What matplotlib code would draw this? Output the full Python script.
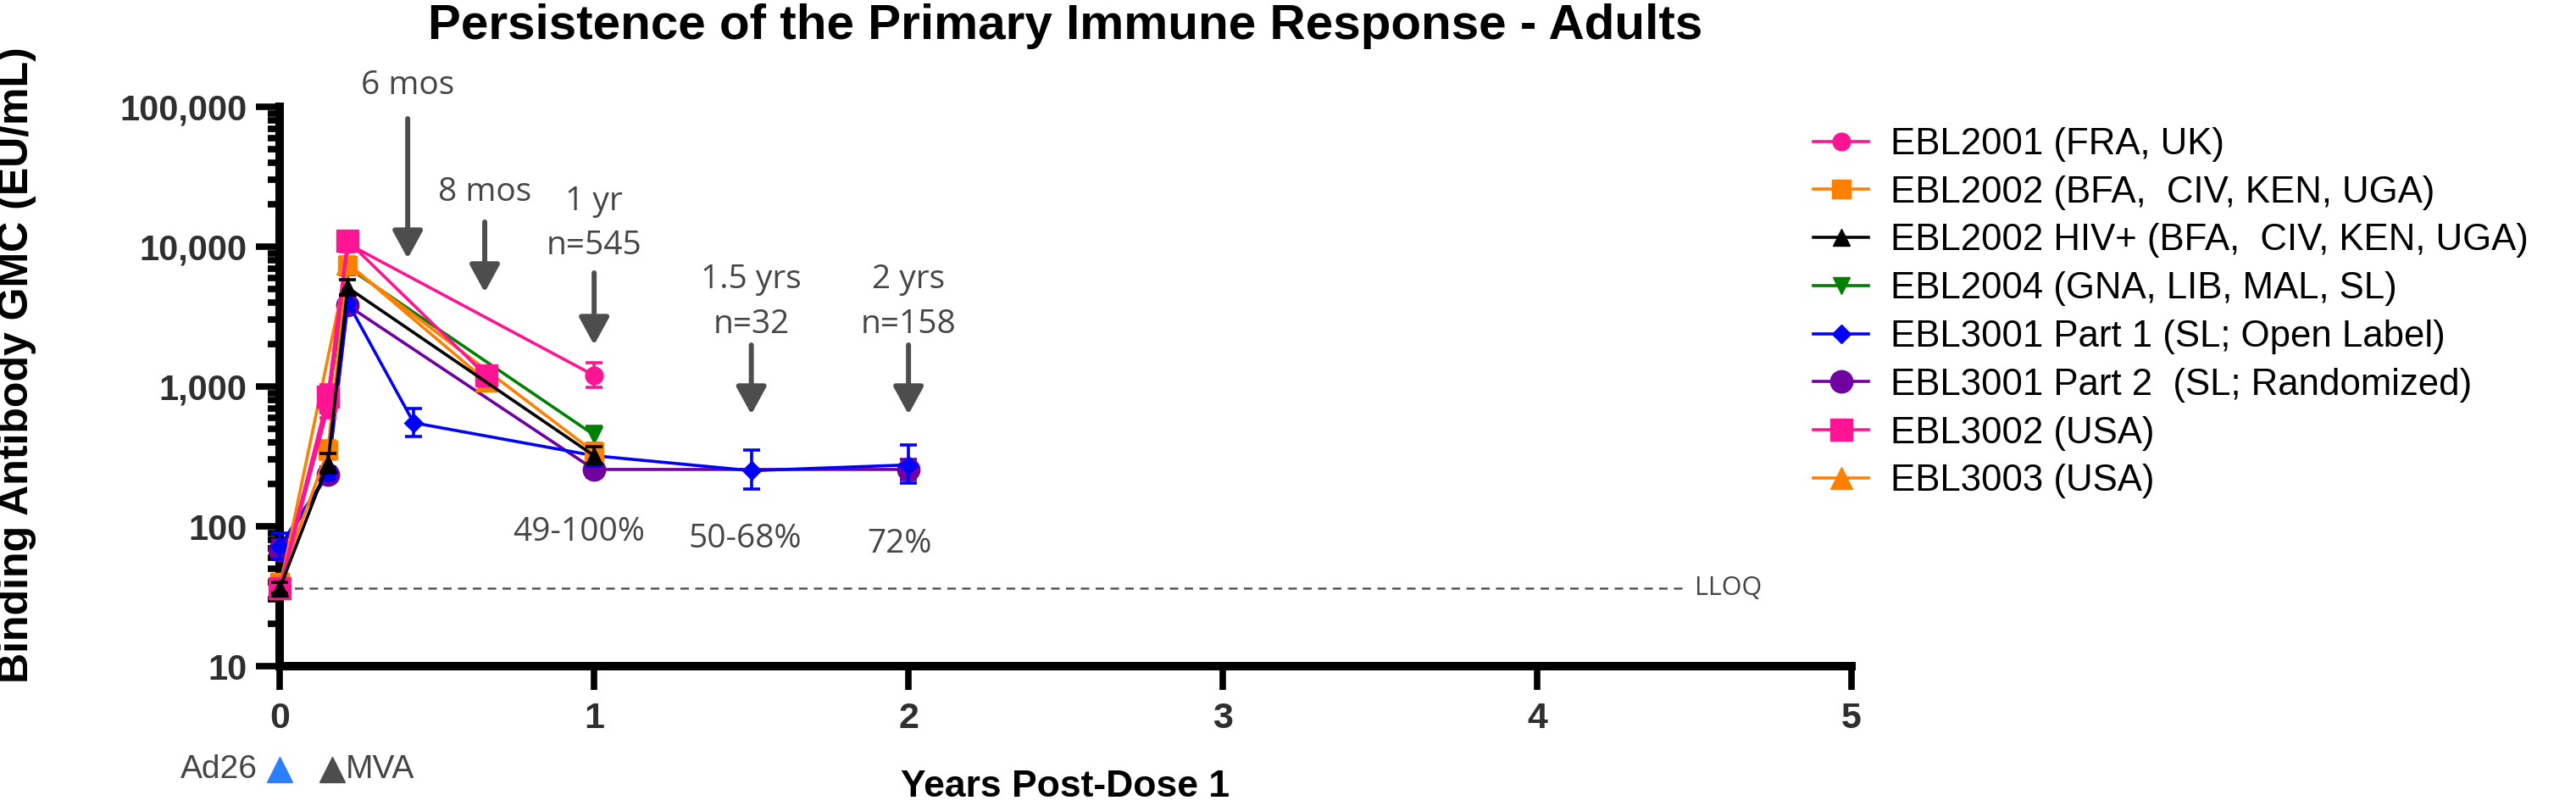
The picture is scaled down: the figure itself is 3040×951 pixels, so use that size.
import numpy as np
import matplotlib.pyplot as plt
from matplotlib.lines import Line2D
from matplotlib.ticker import LogLocator, NullFormatter
from matplotlib.transforms import blended_transform_factory

# years post-dose 1 / GMC (EU/mL) with 95% CI
ebl2001_x = [0, 0.153, 0.216, 1.0]
ebl2001_gmc = [36, 700, 10500, 1200]
ebl2001_lo = [33, 600, 9200, 980]
ebl2001_hi = [40, 820, 12000, 1480]

ebl2002_x = [0, 0.153, 0.216, 1.0]
ebl2002_gmc = [40, 350, 7400, 340]
ebl2002_lo = [37, 300, 6600, 300]
ebl2002_hi = [44, 410, 8300, 390]

ebl2002hiv_x = [0, 0.153, 0.216, 1.0]
ebl2002hiv_gmc = [36, 280, 5100, 320]
ebl2002hiv_lo = [33, 240, 4500, 280]
ebl2002hiv_hi = [40, 330, 5800, 370]

ebl2004_x = [0, 0.153, 0.216, 1.0]
ebl2004_gmc = [40, 750, 7100, 450]
ebl2004_lo = [37, 650, 6400, 390]
ebl2004_hi = [44, 870, 7900, 520]

ebl3001p1_x = [0, 0.153, 0.216, 0.426, 1.0, 1.5, 2.0]
ebl3001p1_gmc = [72, 240, 4000, 550, 320, 250, 275]
ebl3001p1_lo = [58, 215, 3500, 440, 270, 185, 205]
ebl3001p1_hi = [90, 265, 6300, 700, 380, 350, 380]

ebl3001p2_x = [0, 0.153, 0.216, 1.0, 2.0]
ebl3001p2_gmc = [68, 235, 3800, 255, 255]
ebl3001p2_lo = [58, 210, 3300, 225, 215]
ebl3001p2_hi = [80, 260, 4400, 290, 300]

ebl3002_x = [0, 0.153, 0.216, 0.656]
ebl3002_gmc = [36, 850, 11000, 1200]
ebl3002_lo = [34, 700, 10000, 1050]
ebl3002_hi = [38, 1030, 12500, 1380]

ebl3003_x = [0, 0.216, 0.656]
ebl3003_gmc = [36, 7600, 1100]
ebl3003_lo = [34, 6800, 950]
ebl3003_hi = [38, 8500, 1270]

labels = ['EBL2001 (FRA, UK)',
          'EBL2002 (BFA,  CIV, KEN, UGA)',
          'EBL2002 HIV+ (BFA,  CIV, KEN, UGA)',
          'EBL2004 (GNA, LIB, MAL, SL)',
          'EBL3001 Part 1 (SL; Open Label)',
          'EBL3001 Part 2  (SL; Randomized)',
          'EBL3002 (USA)',
          'EBL3003 (USA)']

LLOQ = 36.11
y_ticks = [10, 100, 1000, 10000, 100000]
y_ticklabels = ['10', '100', '1,000', '10,000', '100,000']
x_ticks = [0, 1, 2, 3, 4, 5]

PINK = '#FF1493'
ORANGE = '#FF8000'
GREEN = '#008000'
BLUE = '#0000FF'
PURPLE = '#7000A0'
GREY = '#454545'
ARIAL = 'Liberation Sans'
NOTE = 'Open Sans'

series = [
    (ebl2001_x, ebl2001_gmc, ebl2001_lo, ebl2001_hi, PINK, 'o', 15),
    (ebl2002_x, ebl2002_gmc, ebl2002_lo, ebl2002_hi, ORANGE, 's', 16),
    (ebl2002hiv_x, ebl2002hiv_gmc, ebl2002hiv_lo, ebl2002hiv_hi, 'black', '^', 15),
    (ebl2004_x, ebl2004_gmc, ebl2004_lo, ebl2004_hi, GREEN, 'v', 15),
    (ebl3001p1_x, ebl3001p1_gmc, ebl3001p1_lo, ebl3001p1_hi, BLUE, 'D', 11),
    (ebl3001p2_x, ebl3001p2_gmc, ebl3001p2_lo, ebl3001p2_hi, PURPLE, 'o', 19),
    (ebl3002_x, ebl3002_gmc, ebl3002_lo, ebl3002_hi, PINK, 's', 19),
    (ebl3003_x, ebl3003_gmc, ebl3003_lo, ebl3003_hi, ORANGE, '^', 19),
]
# drawing order (bottom -> top)
draw_order = [5, 4, 3, 7, 1, 0, 6, 2]

fig = plt.figure(figsize=(30.4, 9.51), dpi=100)
ax = fig.add_axes([0.1086, 0.1735, 0.6102, 0.694])

for z, i in enumerate(draw_order):
    x, gmc, lo, hi, color, marker, ms = series[i]
    yerr = [np.subtract(gmc, lo), np.subtract(hi, gmc)]
    eb = ax.errorbar(x, gmc, yerr=yerr, fmt='none', ecolor=color, elinewidth=2.6,
                     capsize=7, capthick=2.6, zorder=3 + z)
    for art in eb.get_children():
        art.set_clip_on(False)
    ax.plot(x, gmc, color=color, marker=marker, ms=ms, lw=2.6,
            clip_on=False, zorder=3.5 + z)

ax.set_yscale('log')
ax.set_xlim(0, 5)
ax.set_ylim(10, 100000)

ax.set_yticks(y_ticks, labels=y_ticklabels, fontsize=30, fontweight='bold',
              color='#2f2f2f', family=ARIAL)
ax.yaxis.set_minor_locator(LogLocator(base=10, subs=np.arange(2, 10), numticks=20))
ax.yaxis.set_minor_formatter(NullFormatter())
ax.set_xticks(x_ticks, labels=[str(t) for t in x_ticks], fontsize=31,
              fontweight='bold', color='#2f2f2f', family=ARIAL)
ax.tick_params(axis='both', which='major', length=20, width=5.5, direction='out')
ax.tick_params(axis='y', which='minor', length=10, width=5.5)
ax.tick_params(axis='y', which='major', pad=8)
ax.tick_params(axis='x', which='major', pad=10)
for side in ['top', 'right']:
    ax.spines[side].set_visible(False)
for side in ['left', 'bottom']:
    ax.spines[side].set_linewidth(7.2)

# LLOQ line
ax.plot([0, 4.47], [LLOQ, LLOQ], color='#555555', lw=1.8, dashes=(4, 3), zorder=1)
ax.text(4.5, LLOQ, 'LLOQ', fontsize=22, family=NOTE, color=GREY, ha='left', va='center')

# time point annotations
notes = [(0.407, 142000, '6 mos'), (0.652, 24400, '8 mos'),
         (1.0, 20900, '1 yr'), (1.0, 10100, 'n=545'),
         (1.5, 5800, '1.5 yrs'), (1.5, 2770, 'n=32'),
         (2.0, 5800, '2 yrs'), (2.0, 2770, 'n=158'),
         (0.95, 91, '49-100%'), (1.48, 81, '50-68%'), (1.97, 75, '72%')]
for nx, ny, txt in notes:
    ax.text(nx, ny, txt, fontsize=28, family=NOTE, color=GREY, ha='center',
            va='center', clip_on=False)

arrows = [(0.407, 82200, 8220), (0.652, 15000, 4710), (1.0, 6490, 1980),
          (1.5, 1980, 631), (2.0, 1980, 631)]
for axx, y0, y1 in arrows:
    ax.annotate('', xy=(axx, y1), xytext=(axx, y0),
                arrowprops=dict(arrowstyle='-|>,head_length=0.55,head_width=0.3',
                                lw=4.3, color='#4d4d4d', shrinkA=0, shrinkB=0,
                                mutation_scale=36), annotation_clip=False)

# vaccination markers below the axis
trans = blended_transform_factory(ax.transData, ax.transAxes)
ax.plot([0], [-0.185], marker='^', ms=21, color='#2A7FFF', transform=trans, clip_on=False)
ax.plot([0.167], [-0.185], marker='^', ms=21, color='#4d4d4d', transform=trans, clip_on=False)
ax.text(-0.07, -0.185, 'Ad26', transform=trans, fontsize=28, family=ARIAL,
        color=GREY, ha='right', va='center')
ax.text(0.21, -0.185, 'MVA', transform=trans, fontsize=28, family=ARIAL,
        color=GREY, ha='left', va='center')

fig.text(1257 / 3040, 1 - 4 / 951, 'Persistence of the Primary Immune Response - Adults',
         fontsize=42, fontweight='bold', family=ARIAL, ha='center', va='top')
fig.text(20 / 3040, 1 - 431 / 951, 'Binding Antibody GMC (EU/mL)', rotation=90,
         fontsize=36, fontweight='bold', family=ARIAL, ha='center', va='center')
fig.text(1257 / 3040, 0.0116, 'Years Post-Dose 1', fontsize=32, fontweight='bold',
         family=ARIAL, ha='center', va='baseline')

handles = [Line2D([0], [0], color=s[4], marker=s[5], ms=s[6], lw=2.6) for s in series]
fig.legend(handles, labels, loc='upper left', bbox_to_anchor=(2140 / 3040, 1 - 150 / 951),
           frameon=False, prop={'family': ARIAL, 'size': 31.5}, labelspacing=0.36,
           handlelength=1.49, handletextpad=0.6, borderpad=0, borderaxespad=0,
           numpoints=1)

fig.savefig('out.png', dpi=100)
